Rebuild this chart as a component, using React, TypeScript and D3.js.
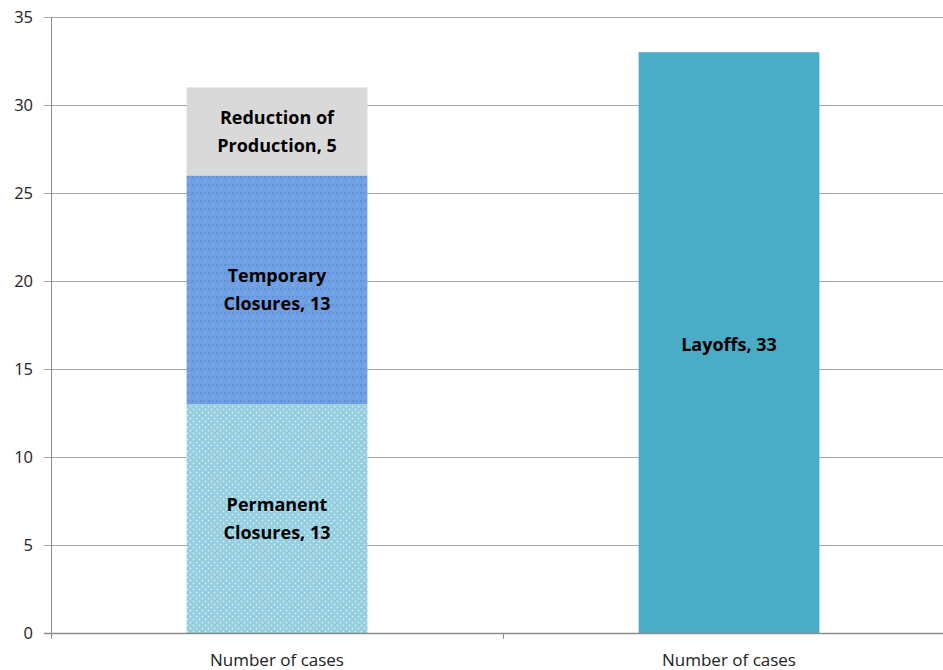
import * as d3 from "d3";
import { useEffect, useRef } from "react";

const categories = ["Number of cases", "Number of cases "];
const stackNames = ["Permanent Closures", "Temporary Closures", "Reduction of Production"];
const stackValues = [13, 13, 5];
const layoffValue = 33;
const yTicks = [0, 5, 10, 15, 20, 25, 30, 35];

const W = 943;
const H = 670;

function wrapLabel(name: string, value: number): string[] {
  const words = name.split(" ");
  return [words.slice(0, -1).join(" "), `${words[words.length - 1]}, ${value}`];
}

export default function App() {
  const ref = useRef<SVGSVGElement>(null);

  useEffect(() => {
    if (!ref.current) return;
    const svg = d3.select(ref.current);
    svg.selectAll("*").remove();

    const left = 51;
    const x = d3.scaleBand().domain(categories).range([left, 955]).paddingInner(0).paddingOuter(0);
    const y = d3.scaleLinear().domain([0, 35]).range([633, 17]);
    const barW = x.bandwidth() * 0.4;

    const defs = svg.append("defs");
    const p1 = defs
      .append("pattern")
      .attr("id", "dots")
      .attr("width", 6)
      .attr("height", 6)
      .attr("patternUnits", "userSpaceOnUse");
    p1.append("rect").attr("width", 6).attr("height", 6).attr("fill", "#93cddf");
    p1.append("circle").attr("cx", 1.5).attr("cy", 1.5).attr("r", 1).attr("fill", "#d6eef5");
    p1.append("circle").attr("cx", 4.5).attr("cy", 4.5).attr("r", 1).attr("fill", "#d6eef5");

    const p2 = defs
      .append("pattern")
      .attr("id", "checks")
      .attr("width", 8)
      .attr("height", 8)
      .attr("patternUnits", "userSpaceOnUse");
    p2.append("rect").attr("width", 8).attr("height", 8).attr("fill", "#6f9fe2");
    p2.append("rect").attr("x", 0).attr("y", 0).attr("width", 2).attr("height", 2).attr("fill", "#5f90da");
    p2.append("rect").attr("x", 4).attr("y", 4).attr("width", 2).attr("height", 2).attr("fill", "#7eaae6");
    p2.append("rect").attr("x", 4).attr("y", 0).attr("width", 1).attr("height", 1).attr("fill", "#4f82d4");

    // gridlines
    svg
      .append("g")
      .selectAll("line")
      .data(yTicks)
      .join("line")
      .attr("x1", left - 7)
      .attr("x2", W)
      .attr("y1", (d) => y(d) + 0.5)
      .attr("y2", (d) => y(d) + 0.5)
      .attr("stroke", "#a6a6a6")
      .attr("stroke-width", 1);

    svg
      .append("g")
      .selectAll("text")
      .data(yTicks)
      .join("text")
      .attr("x", 33)
      .attr("y", (d) => y(d))
      .attr("dy", "0.35em")
      .attr("text-anchor", "end")
      .attr("font-size", 16.5)
      .attr("fill", "#222")
      .text((d) => d);

    // stacked bar
    const cx1 = (x(categories[0]) ?? 0) + x.bandwidth() / 2;
    const fills = ["url(#dots)", "url(#checks)", "#d9d9d9"];
    let acc = 0;
    const segs = stackValues.map((v, i) => {
      const s = { y0: acc, y1: acc + v, name: stackNames[i], v, fill: fills[i] };
      acc += v;
      return s;
    });

    const g1 = svg.append("g");
    g1.selectAll("rect")
      .data(segs)
      .join("rect")
      .attr("x", cx1 - barW / 2)
      .attr("width", barW)
      .attr("y", (d) => y(d.y1))
      .attr("height", (d) => y(d.y0) - y(d.y1))
      .attr("fill", (d) => d.fill);

    segs.forEach((s) => {
      const mid = (y(s.y0) + y(s.y1)) / 2;
      const lines = wrapLabel(s.name, s.v);
      const t = g1
        .append("text")
        .attr("text-anchor", "middle")
        .attr("font-size", 18)
        .attr("font-weight", "bold")
        .attr("fill", "#000");
      lines.forEach((l, i) => {
        t.append("tspan")
          .attr("x", cx1)
          .attr("y", mid + (i - 0.5) * 28)
          .attr("dy", "0.35em")
          .text(l);
      });
    });

    // layoffs bar
    const cx2 = (x(categories[1]) ?? 0) + x.bandwidth() / 2;
    svg
      .append("rect")
      .attr("x", cx2 - barW / 2)
      .attr("width", barW)
      .attr("y", y(layoffValue))
      .attr("height", y(0) - y(layoffValue))
      .attr("fill", "#4bacc6");
    svg
      .append("text")
      .attr("x", cx2)
      .attr("y", (y(0) + y(layoffValue)) / 2 + 2)
      .attr("dy", "0.35em")
      .attr("text-anchor", "middle")
      .attr("font-size", 18)
      .attr("font-weight", "bold")
      .text(`Layoffs, ${layoffValue}`);

    // axes
    svg
      .append("line")
      .attr("x1", left + 0.5)
      .attr("x2", left + 0.5)
      .attr("y1", y(35))
      .attr("y2", y(0) + 6)
      .attr("stroke", "#8c8c8c");
    svg
      .append("line")
      .attr("x1", left - 7)
      .attr("x2", W)
      .attr("y1", y(0) + 0.5)
      .attr("y2", y(0) + 0.5)
      .attr("stroke", "#8c8c8c")
      .attr("stroke-width", 1.5);
    svg
      .append("line")
      .attr("x1", (x(categories[1]) ?? 0) + 0.5)
      .attr("x2", (x(categories[1]) ?? 0) + 0.5)
      .attr("y1", y(0))
      .attr("y2", y(0) + 6)
      .attr("stroke", "#8c8c8c");

    svg
      .append("g")
      .selectAll("text")
      .data(categories)
      .join("text")
      .attr("x", (d) => (x(d) ?? 0) + x.bandwidth() / 2)
      .attr("y", 660)
      .attr("dy", "0.35em")
      .attr("text-anchor", "middle")
      .attr("font-size", 17)
      .attr("fill", "#222")
      .text((d) => d.trim());
  }, []);

  return (
    <svg
      ref={ref}
      width={W}
      height={H}
      style={{ position: "absolute", left: 0, top: 0, fontFamily: "'Open Sans', sans-serif" }}
    />
  );
}
